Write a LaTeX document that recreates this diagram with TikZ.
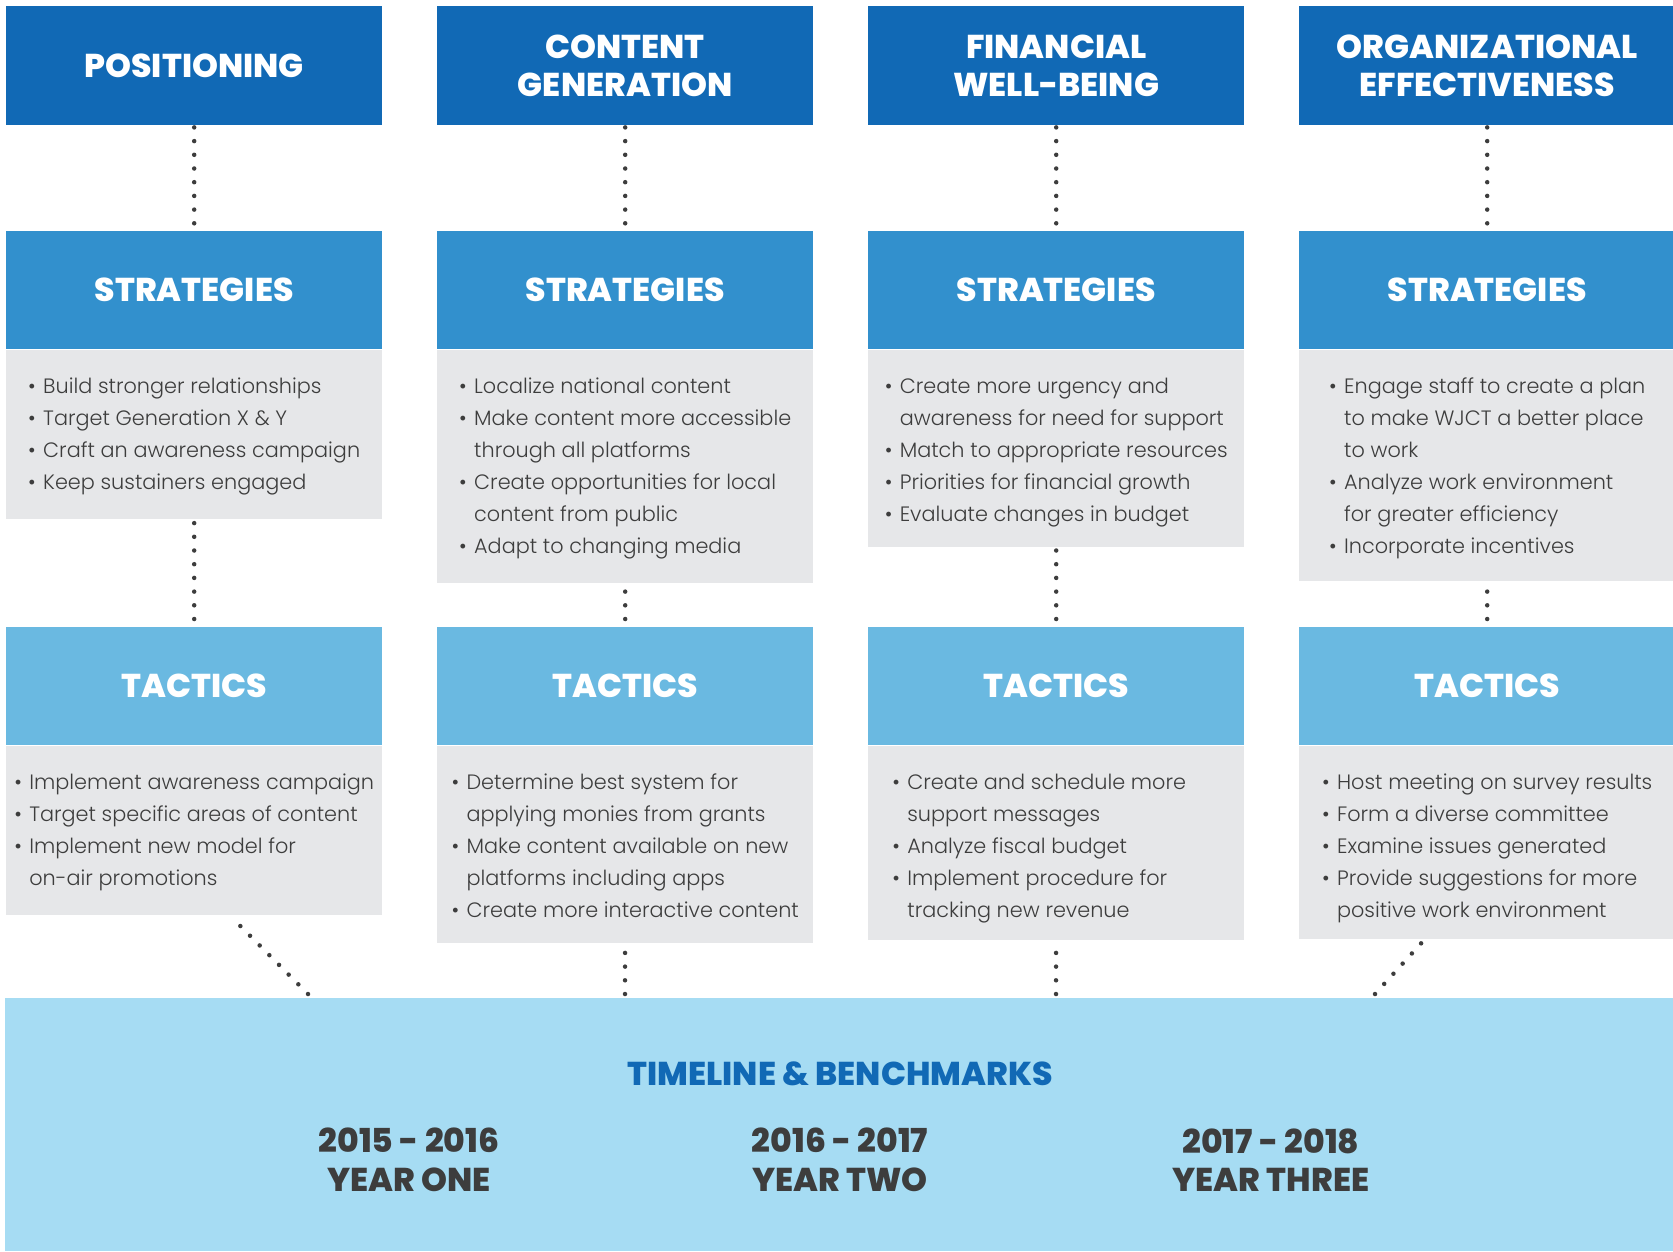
\documentclass[tikz,border=0pt]{standalone}
\usepackage{fontspec}
\setmainfont{Poppins}[UprightFont={* Light}, BoldFont={* ExtraBold}]
\usetikzlibrary{positioning,calc}

\definecolor{hdblue}{HTML}{1169B5}
\definecolor{stblue}{HTML}{3290CD}
\definecolor{tcblue}{HTML}{6AB9E1}
\definecolor{bodygray}{HTML}{E6E7E9}
\definecolor{tlblue}{HTML}{A6DCF3}
\definecolor{txtgray}{HTML}{3D3D3D}

\newcommand\hdfont{\bfseries\fontsize{33}{38.5}\selectfont}
\newcommand\bdfont{\fontsize{20.8}{32}\selectfont}
\newcommand\bitem{\makebox[15pt][l]{•}}
\newcommand\bcont{\hspace*{15pt}}
\newcommand\topgap{\rule{0pt}{44pt}}
\newcommand\botgap[1]{\rule[-#1pt]{0pt}{0pt}}

\begin{document}
\begin{tikzpicture}[x=1pt, y=-1pt,
    head/.style={fill=hdblue, text=white, anchor=north west, minimum width=376,
                 minimum height=119, inner sep=0, align=center, font=\hdfont},
    strat/.style={head, fill=stblue, minimum height=118},
    tact/.style={head, fill=tcblue, minimum height=118},
    body/.style={fill=bodygray, text=txtgray, minimum width=376, inner sep=0,
                 align=left, font=\bdfont},
    dotline/.style={txtgray, line width=4.5, line cap=round,
                    dash pattern=on 0pt off 13.7pt},
    year/.style={text=txtgray, align=center, font=\hdfont}]
        \useasboundingbox (0,0) rectangle (1673,1251);

        % Заголовки
        \node[head] (H1) at (6,6)    {POSITIONING};
        \node[head] (H2) at (437,6)  {CONTENT\\GENERATION};
        \node[head] (H3) at (868,6)  {FINANCIAL\\WELL-BEING};
        \node[head] (H4) at (1299,6) {ORGANIZATIONAL\\EFFECTIVENESS};

        % Стратегии
        \node[strat] (S1) at (6,231)    {STRATEGIES};
        \node[strat] (S2) at (437,231)  {STRATEGIES};
        \node[strat] (S3) at (868,231)  {STRATEGIES};
        \node[strat] (S4) at (1299,231) {STRATEGIES};

        \node[body, below=0pt of S1] (SB1) {%
            \topgap\bitem Build stronger relationships\\
            \bitem Target Generation X \& Y\\
            \bitem Craft an awareness campaign\\
            \bitem Keep sustainers engaged\botgap{29}};
        \node[body, below=0pt of S2] (SB2) {%
            \topgap\bitem Localize national content\\
            \bitem Make content more accessible\\
            \bcont through all platforms\\
            \bitem Create opportunities for local\\
            \bcont content from public\\
            \bitem Adapt to changing media\botgap{29}};
        \node[body, below=0pt of S3] (SB3) {%
            \topgap\bitem Create more urgency and\\
            \bcont awareness for need for support\\
            \bitem Match to appropriate resources\\
            \bitem Priorities for financial growth\\
            \bitem Evaluate changes in budget\botgap{25}};
        \node[body, below=0pt of S4] (SB4) {%
            \topgap\bitem Engage staff to create a plan\\
            \bcont to make WJCT a better place\\
            \bcont to work\\
            \bitem Analyze work environment\\
            \bcont for greater efficiency\\
            \bitem Incorporate incentives\botgap{27}};

        % Тактики
        \node[tact] (T1) at (6,627)    {TACTICS};
        \node[tact] (T2) at (437,627)  {TACTICS};
        \node[tact] (T3) at (868,627)  {TACTICS};
        \node[tact] (T4) at (1299,627) {TACTICS};

        \node[body, below=0pt of T1] (TB1) {%
            \topgap\bitem Implement awareness campaign\\
            \bitem Target specific areas of content\\
            \bitem Implement new model for\\
            \bcont on-air promotions\botgap{29}};
        \node[body, below=0pt of T2] (TB2) {%
            \topgap\bitem Determine best system for\\
            \bcont applying monies from grants\\
            \bitem Make content available on new\\
            \bcont platforms including apps\\
            \bitem Create more interactive content\botgap{25}};
        \node[body, below=0pt of T3] (TB3) {%
            \topgap\bitem Create and schedule more\hspace*{34pt}\\
            \bcont support messages\\
            \bitem Analyze fiscal budget\\
            \bitem Implement procedure for\\
            \bcont tracking new revenue\botgap{22}};
        \node[body, below=0pt of T4] (TB4) {%
            \topgap\bitem Host meeting on survey results\\
            \bitem Form a diverse committee\\
            \bitem Examine issues generated\\
            \bitem Provide suggestions for more\\
            \bcont positive work environment\botgap{21}};

        % Сроки
        \node[fill=tlblue, anchor=north west, minimum width=1668, minimum height=253,
              inner sep=0] (TL) at (5,998) {};
        \node[text=hdblue, font=\hdfont, anchor=base] (TLT) at (840,1085) {TIMELINE \& BENCHMARKS};
        \node[year] (Y1) at (409,1160)  {2015 - 2016\\YEAR ONE};
        \node[year] (Y2) at (840,1160)  {2016 - 2017\\YEAR TWO};
        \node[year] (Y3) at (1271,1160) {2017 - 2018\\YEAR THREE};

        % Пунктир
        \coordinate (B1) at ($(TB1.south)+(35,0)$);
        \coordinate (B4) at ($(TB4.south)+(-62,0)$);
        \coordinate (E1) at (308,994);
        \coordinate (E2) at (625,994);
        \coordinate (E3) at (1056,994);
        \coordinate (E4) at (1375,994);

        \draw[dotline, shorten <=2, shorten >=5] (H1) -- (S1);
        \draw[dotline, shorten <=2, shorten >=5] (H2) -- (S2);
        \draw[dotline, shorten <=2, shorten >=5] (H3) -- (S3);
        \draw[dotline, shorten <=2, shorten >=5] (H4) -- (S4);

        \draw[dotline, shorten <=8, shorten >=3] (T1) -- (SB1);
        \draw[dotline, shorten <=8, shorten >=3] (T2) -- (SB2);
        \draw[dotline, shorten <=8, shorten >=3] (T3) -- (SB3);
        \draw[dotline, shorten <=8, shorten >=3] (T4) -- (SB4);

        \draw[dotline, shorten >=3] (E1) -- (B1);
        \draw[dotline, shorten >=3] (E2) -- (TB2);
        \draw[dotline, shorten >=3] (E3) -- (TB3);
        \draw[dotline, shorten >=3] (E4) -- (B4);
    \end{tikzpicture}
\end{document}
